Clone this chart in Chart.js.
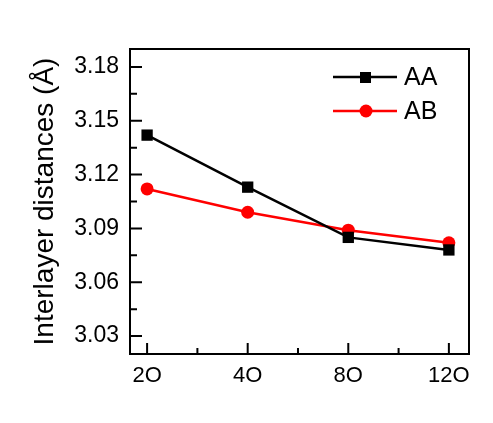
<!DOCTYPE html>
<html>
<head>
<meta charset="utf-8">
<script src="https://cdn.jsdelivr.net/npm/chart.js@4"></script>
<style>
  html, body { margin: 0; padding: 0; background: #fff; }
  #wrap { width: 493px; height: 423px; }
</style>
</head>
<body>
<div id="wrap"><canvas id="myChart" width="493" height="423"></canvas></div>
<script>
var categories = ['2O', '4O', '8O', '12O'];
var aa_values = [3.142, 3.113, 3.085, 3.078];
var ab_values = [3.112, 3.099, 3.089, 3.082];
var y_ticks = [3.03, 3.06, 3.09, 3.12, 3.15, 3.18];

var FONT = 'Liberation Sans, Arial, sans-serif';

function toPoints(vals) {
  return vals.map(function (v, i) { return { x: i, y: v }; });
}

// inward ticks, frame and legend
var framePlugin = {
  id: 'frame',
  afterDraw: function (chart) {
    var ctx = chart.ctx;
    var a = chart.chartArea;
    var xs = chart.scales.x, ys = chart.scales.y;
    ctx.save();
    ctx.strokeStyle = '#000';
    ctx.lineWidth = 2;
    ctx.strokeRect(a.left, a.top, a.right - a.left, a.bottom - a.top);

    ctx.beginPath();
    for (var i = 0; i < categories.length; i++) {
      var px = xs.getPixelForValue(i);
      ctx.moveTo(px, a.bottom); ctx.lineTo(px, a.bottom - 11);
      if (i < categories.length - 1) {
        var mx = xs.getPixelForValue(i + 0.5);
        ctx.moveTo(mx, a.bottom); ctx.lineTo(mx, a.bottom - 6);
      }
    }
    y_ticks.forEach(function (t, j) {
      var py = ys.getPixelForValue(t);
      ctx.moveTo(a.left, py); ctx.lineTo(a.left + 12, py);
      if (j < y_ticks.length - 1) {
        var my = ys.getPixelForValue(t + 0.015);
        ctx.moveTo(a.left, my); ctx.lineTo(a.left + 7, my);
      }
    });
    ctx.stroke();

    // legend
    chart.data.datasets.forEach(function (ds, k) {
      var ly = 77 + k * 34;
      ctx.strokeStyle = ds.borderColor;
      ctx.fillStyle = ds.backgroundColor;
      ctx.lineWidth = 2.5;
      ctx.beginPath();
      ctx.moveTo(333, ly); ctx.lineTo(397, ly);
      ctx.stroke();
      if (ds.pointStyle === 'rect') {
        ctx.fillRect(360, ly - 5, 11, 11);
      } else {
        ctx.beginPath();
        ctx.arc(366, ly, 6.5, 0, Math.PI * 2);
        ctx.fill();
      }
      ctx.fillStyle = '#000';
      ctx.font = '25px ' + FONT;
      ctx.textBaseline = 'middle';
      ctx.fillText(ds.label, 404, ly + 1);
    });
    ctx.restore();
  }
};

const ctx = document.getElementById('myChart');

new Chart(ctx, {
  type: 'line',
  data: {
    datasets: [{
      label: 'AA',
      data: toPoints(aa_values),
      borderColor: '#000',
      backgroundColor: '#000',
      borderWidth: 2.5,
      pointStyle: 'rect',
      pointRadius: 8,
      pointBorderWidth: 0
    }, {
      label: 'AB',
      data: toPoints(ab_values),
      borderColor: '#ff0000',
      backgroundColor: '#ff0000',
      borderWidth: 2.5,
      pointStyle: 'circle',
      pointRadius: 6.5,
      pointBorderWidth: 0
    }]
  },
  options: {
    responsive: false,
    animation: false,
    layout: { padding: { left: 0, right: 24, top: 49, bottom: 0 } },
    plugins: { legend: { display: false }, tooltip: { enabled: false } },
    scales: {
      x: {
        type: 'linear',
        min: -0.17,
        max: 3.2,
        grid: { display: false },
        border: { display: false },
        afterFit: function (s) { s.height = 69; },
        afterBuildTicks: function (s) {
          s.ticks = categories.map(function (c, i) { return { value: i }; });
        },
        ticks: {
          padding: 1,
          color: '#000',
          font: { family: FONT, size: 22 },
          maxRotation: 0,
          callback: function (v) { return categories[v]; }
        }
      },
      y: {
        min: 3.02,
        max: 3.19,
        grid: { display: false },
        border: { display: false },
        afterFit: function (s) { s.width = 130; },
        afterBuildTicks: function (s) {
          s.ticks = y_ticks.map(function (t) { return { value: t }; });
        },
        title: {
          display: true,
          text: 'Interlayer distances (Å)',
          color: '#000',
          font: { family: FONT, size: 28 },
          padding: { top: 28, bottom: 0 }
        },
        ticks: {
          padding: 3,
          color: '#000',
          font: { family: FONT, size: 23 },
          callback: function (v) { return v.toFixed(2); }
        }
      }
    }
  },
  plugins: [framePlugin]
});
</script>
</body>
</html>
